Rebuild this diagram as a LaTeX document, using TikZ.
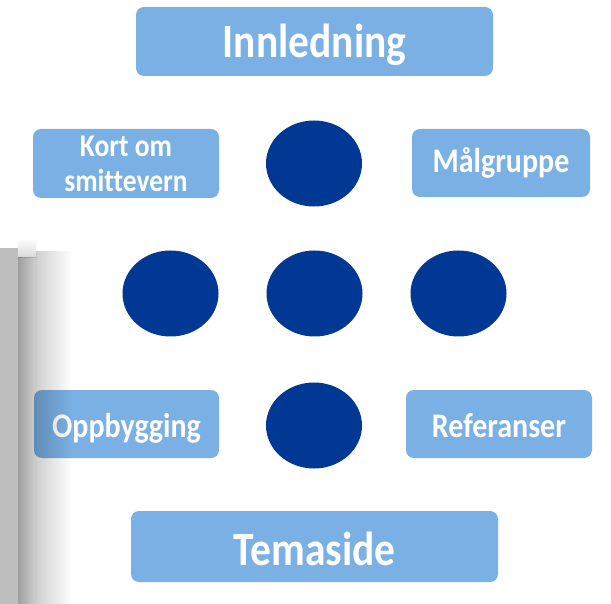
\documentclass[tikz,border=0pt]{standalone}
\usepackage{fontspec}
\setmainfont{Carlito}[Ligatures=CommonOff]
\usetikzlibrary{shapes.geometric}
\definecolor{boxblue}{HTML}{7AB0E3}
\definecolor{navy}{HTML}{003893}
\definecolor{grayA}{HTML}{BEBEBE}
\definecolor{grayB}{HTML}{9E9E9E}
\definecolor{grayC}{HTML}{CFCFCF}
\newcommand{\tallt}[1]{\scalebox{1}[1.15]{#1}}
\begin{document}
\begin{tikzpicture}[x=1pt,y=-1pt,
  box/.style={fill=boxblue, rounded corners=8pt, text=white, inner sep=0pt, align=center},
  bigbox/.style={box, font=\fontsize{41.5}{45}\selectfont\bfseries},
  smallbox/.style={box, font=\fontsize{30}{35}\selectfont\bfseries},
  dot/.style={ellipse, fill=navy, minimum width=96pt, minimum height=86pt, inner sep=0pt}]
\useasboundingbox (0,0) rectangle (611,604);
\fill[white] (0,0) rectangle (611,604);
\node[bigbox, minimum width=357pt, minimum height=69pt, text height=36pt, text depth=3pt] (innl) at (314.5,41.5) {\tallt{Innledning}};
\node[bigbox, minimum width=367pt, minimum height=71pt, text height=38pt, text depth=1pt] (tema) at (314.5,546.5) {\tallt{Temaside}};
\node[box, minimum width=186pt, minimum height=69pt, font=\fontsize{27.5}{35}\selectfont\bfseries] (kort) at (126,163.5) {\tallt{Kort om}\\\tallt{smittevern}};
\node[smallbox, minimum width=178pt, minimum height=68pt, text height=25pt, text depth=5pt] (malg) at (501,163) {\tallt{Målgruppe}};
\node[smallbox, minimum width=185pt, minimum height=68pt, text height=28pt, text depth=1pt] (oppb) at (126.5,424) {\tallt{Oppbygging}};
\node[smallbox, minimum width=186pt, minimum height=68pt, text height=28pt, text depth=1pt] (ref) at (499,424) {\tallt{Referanser}};
\node[dot] (ctop) at (314,163.5) {};
\node[dot] (cleft) at (170.5,293.5) {};
\node[dot] (cmid) at (314.5,293.5) {};
\node[dot] (cright) at (458.5,293.5) {};
\node[dot] (cbot) at (314,425.5) {};
\begin{scope}[blend mode=multiply]
  \fill[grayA] (0,248) rectangle (18,604);
  \shade[left color=grayB, right color=grayC] (18,258) rectangle (36,604);
  \shade[left color=grayC, right color=white] (36,252) rectangle (72,604);
  \shade[top color=white, bottom color=grayC!80] (18,238) rectangle (36,258);
\end{scope}
\end{tikzpicture}
\end{document}
